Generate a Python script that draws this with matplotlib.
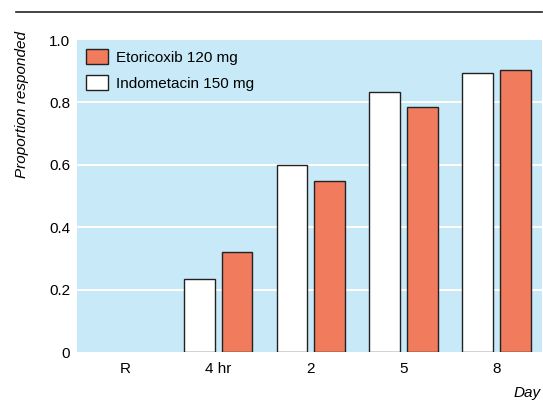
import numpy as np
import matplotlib.pyplot as plt
from matplotlib.lines import Line2D
from matplotlib.patches import Patch

# Response data
categories = ["R", "4 hr", "2", "5", "8"]
indometacin = [0.0, 0.233, 0.60, 0.834, 0.893]
etoricoxib = [0.0, 0.32, 0.548, 0.785, 0.904]
yticks = [0, 0.2, 0.4, 0.6, 0.8, 1.0]
ytick_labels = ["0", "0.2", "0.4", "0.6", "0.8", "1.0"]

plt.rcParams['font.family'] = ['Liberation Sans', 'DejaVu Sans']

bg = "#c8e9f8"
orange = "#f07b5d"

fig = plt.figure(figsize=(5.43, 4.0), dpi=100)
ax = fig.add_axes([77 / 543, 1 - 352 / 400, (542 - 77) / 543, (352 - 40) / 400])
ax.set_facecolor(bg)

x = np.arange(len(categories))
w = 0.333
off = 0.204
mask = np.array(indometacin) > 0
ax.bar(x[mask] - off, np.array(indometacin)[mask], w, color="white", edgecolor="#222222", linewidth=1, zorder=3)
ax.bar(x[mask] + off, np.array(etoricoxib)[mask], w, color=orange, edgecolor="#222222", linewidth=1, zorder=3)

for y in [0.2, 0.4, 0.6, 0.8]:
    ax.axhline(y, color="white", linewidth=1.5, zorder=1)

ax.set_xlim(-0.52, 4.49)
ax.set_ylim(0, 1.0)
ax.set_xticks(x)
ax.set_xticklabels(categories, fontsize=11)
ax.set_yticks(yticks)
ax.set_yticklabels(ytick_labels, fontsize=11)
ax.tick_params(axis="y", length=0, pad=5)
ax.tick_params(axis="x", length=0, pad=7)
for s in ax.spines.values():
    s.set_visible(False)

handles = [Patch(facecolor=orange, edgecolor="#222222", label="Etoricoxib 120 mg"),
           Patch(facecolor="white", edgecolor="#222222", label="Indometacin 150 mg")]
ax.legend(handles=handles, loc="upper left", frameon=False, fontsize=11,
          handlelength=1.45, handleheight=1.15, handletextpad=0.5,
          borderaxespad=0.2, labelspacing=0.65, bbox_to_anchor=(0.0, 1.0))

fig.text(22 / 543, 1 - 105 / 400, "Proportion responded", rotation=90, style="italic",
         fontsize=11, ha="center", va="center")
fig.text(541 / 543, 1 - 393 / 400, "Day", style="italic", fontsize=11, ha="right", va="center")

fig.add_artist(Line2D([16 / 543, 542 / 543], [1 - 12 / 400, 1 - 12 / 400], color="#222222", linewidth=1.2))

fig.savefig("out.png", dpi=100)
